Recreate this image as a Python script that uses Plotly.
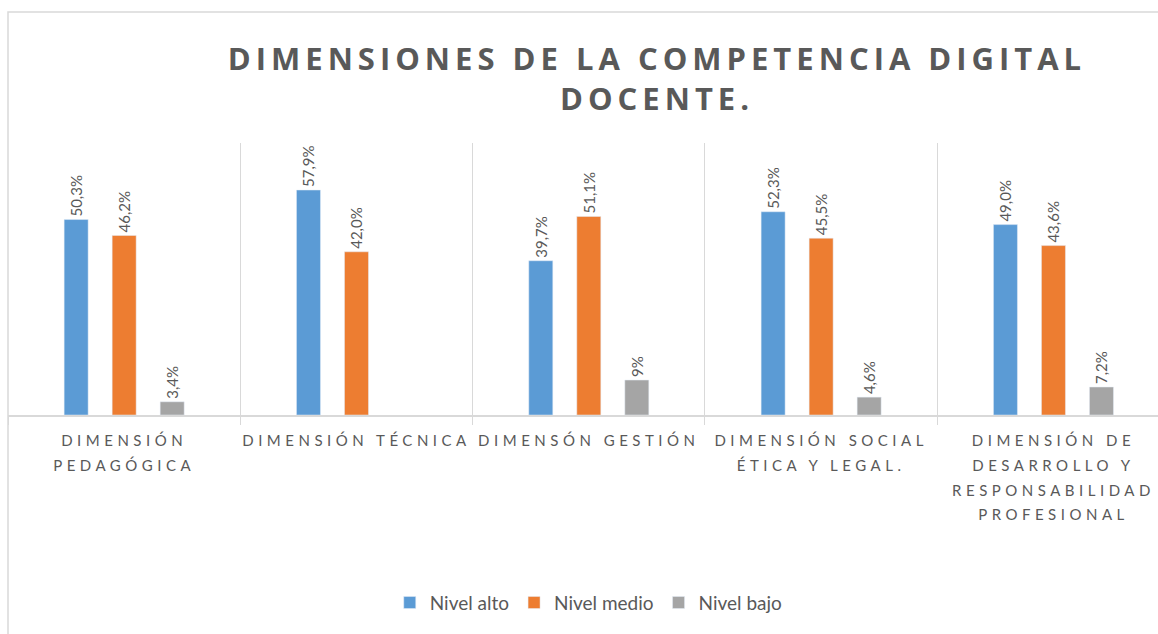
import plotly.graph_objects as go

categories = [
    "DIMENSIÓN<br>PEDAGÓGICA",
    "DIMENSIÓN TÉCNICA",
    "DIMENSÓN GESTIÓN",
    "DIMENSIÓN SOCIAL<br>ÉTICA Y LEGAL.",
    "DIMENSIÓN DE<br>DESARROLLO Y<br>RESPONSABILIDAD<br>PROFESIONAL",
]

nivel_alto = [50.3, 57.9, 39.7, 52.3, 49.0]
nivel_medio = [46.2, 42.0, 51.1, 45.5, 43.6]
nivel_bajo = [3.4, None, 9.0, 4.6, 7.2]

alto_labels = ["50,3%", "57,9%", "39,7%", "52,3%", "49,0%"]
medio_labels = ["46,2%", "42,0%", "51,1%", "45,5%", "43,6%"]
bajo_labels = ["3,4%", "", "9%", "4,6%", "7,2%"]

GREY_TEXT = "#595959"
LINE = "#d9d9d9"

series = [
    ("Nivel alto", nivel_alto, alto_labels, "#5B9BD5"),
    ("Nivel medio", nivel_medio, medio_labels, "#ED7D31"),
    ("Nivel bajo", nivel_bajo, bajo_labels, "#A5A5A5"),
]

fig = go.Figure()
for name, vals, labels, color in series:
    fig.add_trace(
        go.Bar(
            name=name,
            x=categories,
            y=vals,
            text=labels,
            textposition="outside",
            textangle=-90,
            constraintext="none",
            cliponaxis=False,
            textfont=dict(family="Lato, sans-serif", size=15, color=GREY_TEXT),
            marker=dict(color=color),
        )
    )

fig.update_layout(
    width=1158,
    height=634,
    margin=dict(l=8, r=0, t=143, b=219, autoexpand=False),
    paper_bgcolor="white",
    plot_bgcolor="white",
    barmode="group",
    bargap=0.38,
    bargroupgap=0.5,
    title=dict(
        text="DIMENSIONES DE LA COMPETENCIA DIGITAL<br>DOCENTE.",
        x=657 / 1158,
        xanchor="center",
        y=0.89,
        yanchor="top",
        font=dict(family="Open Sans, sans-serif", size=31, color=GREY_TEXT),
    ),
    legend=dict(
        orientation="h",
        x=0.505,
        xanchor="center",
        y=-0.69,
        yanchor="middle",
        font=dict(family="Lato, sans-serif", size=19, color=GREY_TEXT),
        traceorder="normal",
        itemwidth=30,
    ),
    showlegend=True,
)

fig.update_xaxes(
    range=[-0.5, 4.45],
    automargin=False,
    tickson="boundaries",
    showgrid=True,
    gridcolor=LINE,
    gridwidth=1,
    showline=True,
    linecolor=LINE,
    linewidth=2,
    ticks="outside",
    ticklen=8,
    tickcolor=LINE,
    ticklabelstandoff=11,
    tickfont=dict(family="Lato, sans-serif", size=15, color=GREY_TEXT),
    tickangle=0,
)
fig.update_yaxes(range=[0, 70], visible=False, showgrid=False, automargin=False)

# outer frame of the chart area
fig.add_shape(
    type="rect",
    xref="paper",
    yref="paper",
    x0=0,
    x1=1.1,
    y0=-1.0,
    y1=(415 - 12) / 272,
    line=dict(color=LINE, width=1.5),
    layer="below",
)

# page margin off, letter spacing + looser label lines like the spreadsheet chart
post = """
document.body.style.margin = '0';
var gd = document.getElementById('{plot_id}');
function spacing() {
  gd.querySelectorAll('.gtitle').forEach(function(e){ e.style.letterSpacing = '5px'; e.style.fontWeight = '700'; });
  gd.querySelectorAll('.xtick text').forEach(function(e){
    e.style.letterSpacing = '4.5px';
    e.querySelectorAll('tspan.line').forEach(function(t){
      var dy = parseFloat(t.getAttribute('dy'));
      if (dy > 0) { t.setAttribute('dy', (dy / 1.3 * 1.65) + 'em'); }
    });
  });
}
spacing();
"""

fig.write_html("out.html", post_script=post, config={"displayModeBar": False})
